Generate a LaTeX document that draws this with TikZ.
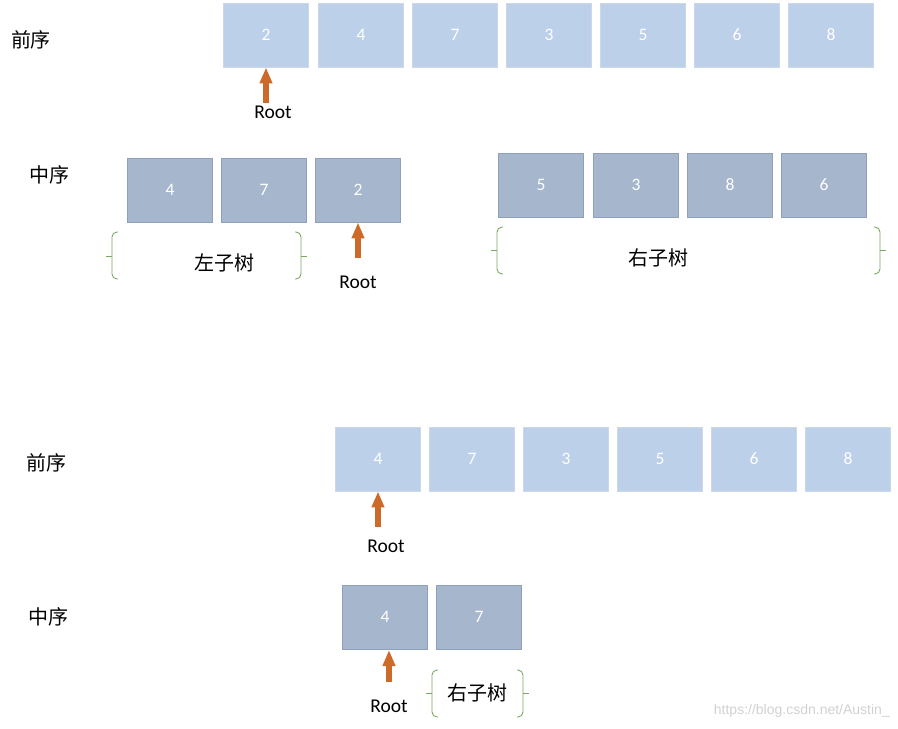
\documentclass[tikz,border=0pt]{standalone}
\usepackage{fontspec}
\setmainfont{Carlito}
\newfontfamily\cjk{Noto Sans CJK SC}
\newfontfamily\wm{Liberation Sans}
\usetikzlibrary{arrows.meta}
\definecolor{lightbox}{HTML}{BDD0E9}
\definecolor{lightedge}{HTML}{CCD8EA}
\definecolor{darkbox}{HTML}{A6B6CD}
\definecolor{darkedge}{HTML}{8FA1BA}
\definecolor{arroworange}{HTML}{CC6A2A}
\definecolor{bracegreen}{HTML}{7BA862}
\begin{document}
\begin{tikzpicture}[x=1pt,y=-1pt,
  cell/.style={minimum width=85pt,minimum height=64pt,inner sep=0pt,text=white,font=\fontsize{17.5}{19}\selectfont},
  lightcell/.style={cell,fill=lightbox,draw=lightedge,line width=0.8pt},
  darkcell/.style={cell,fill=darkbox,draw=darkedge,line width=0.8pt},
  label/.style={font=\cjk\fontsize{20}{23}\selectfont,inner sep=0pt},
  rootlbl/.style={font=\fontsize{19.5}{21}\selectfont,inner sep=0pt},
  rootarrow/.style={draw=arroworange,line width=6pt,-{Triangle[width=12pt,length=16pt]}},
  bracestyle/.style={draw=bracegreen,line width=0.9pt,rounded corners=5pt}
]
\useasboundingbox (0,0) rectangle (898,729);

% ---------- top: preorder ----------
\node[label] (pre1) at (31,40) {前序};
\foreach \v/\x [count=\i] in {2/266,4/361,7/455,3/549,5/643,6/737,8/831}
  \node[lightcell] (a\i) at (\x,35) {\v};
\coordinate (ra) at (266,103);
\draw[rootarrow] (ra) -- (a1.south);
\node[rootlbl] (rootA) at (273,112) {Root};

% ---------- middle: inorder ----------
\node[label] (in1) at (49,175) {中序};
\foreach \v/\x [count=\i] in {4/170,7/264,2/358}
  \node[darkcell] (b\i) at (\x,190) {\v};
\foreach \v/\x [count=\i] in {5/541,3/636,8/730,6/824}
  \node[darkcell] (c\i) at (\x,185) {\v};
\coordinate (rb) at (358,258);
\draw[rootarrow] (rb) -- (b3.south);
\node[rootlbl] (rootB) at (358,282) {Root};

% left brace group
\draw[bracestyle] (118,232) -- (112,232) -- (112,256) -- (112,279) -- (118,279);
\draw[bracestyle,rounded corners=0pt] (106,256) -- (112,256);
\draw[bracestyle] (295,232) -- (301,232) -- (301,279) -- (295,279);
\draw[bracestyle,rounded corners=0pt] (301,256) -- (307,256);
\node[label] (lt) at (224,263) {左子树};

% right brace group
\draw[bracestyle] (503,227) -- (497,227) -- (497,274) -- (503,274);
\draw[bracestyle,rounded corners=0pt] (491,250) -- (497,250);
\draw[bracestyle] (874,227) -- (880,227) -- (880,274) -- (874,274);
\draw[bracestyle,rounded corners=0pt] (880,250) -- (886,250);
\node[label] (rt) at (658,258) {右子树};

% ---------- bottom: preorder ----------
\node[label] (pre2) at (47,463) {前序};
\foreach \v/\x [count=\i] in {4/378,7/472,3/566,5/660,6/754,8/848}
  \node[lightcell] (d\i) at (\x,459) {\v};
\coordinate (rd) at (378,527);
\draw[rootarrow] (rd) -- (d1.south);
\node[rootlbl] (rootD) at (386,546) {Root};

% ---------- bottom: inorder ----------
\node[label] (in2) at (48,617) {中序};
\foreach \v/\x [count=\i] in {4/385,7/479}
  \node[darkcell] (e\i) at (\x,617) {\v};
\coordinate (re) at (389,682);
\draw[rootarrow] (re) -- (389,650);
\node[rootlbl] (rootE) at (389,706) {Root};

\draw[bracestyle] (438,670) -- (432,670) -- (432,717) -- (438,717);
\draw[bracestyle,rounded corners=0pt] (426,693) -- (432,693);
\draw[bracestyle] (517,670) -- (523,670) -- (523,717) -- (517,717);
\draw[bracestyle,rounded corners=0pt] (523,693) -- (529,693);
\node[label] (rt2) at (477,693) {右子树};

% watermark
\node[font=\wm\fontsize{14}{16}\selectfont,text=black!18,inner sep=0pt,anchor=east] (wmk) at (890,711) {https://blog.csdn.net/Austin\_};
\end{tikzpicture}
\end{document}
